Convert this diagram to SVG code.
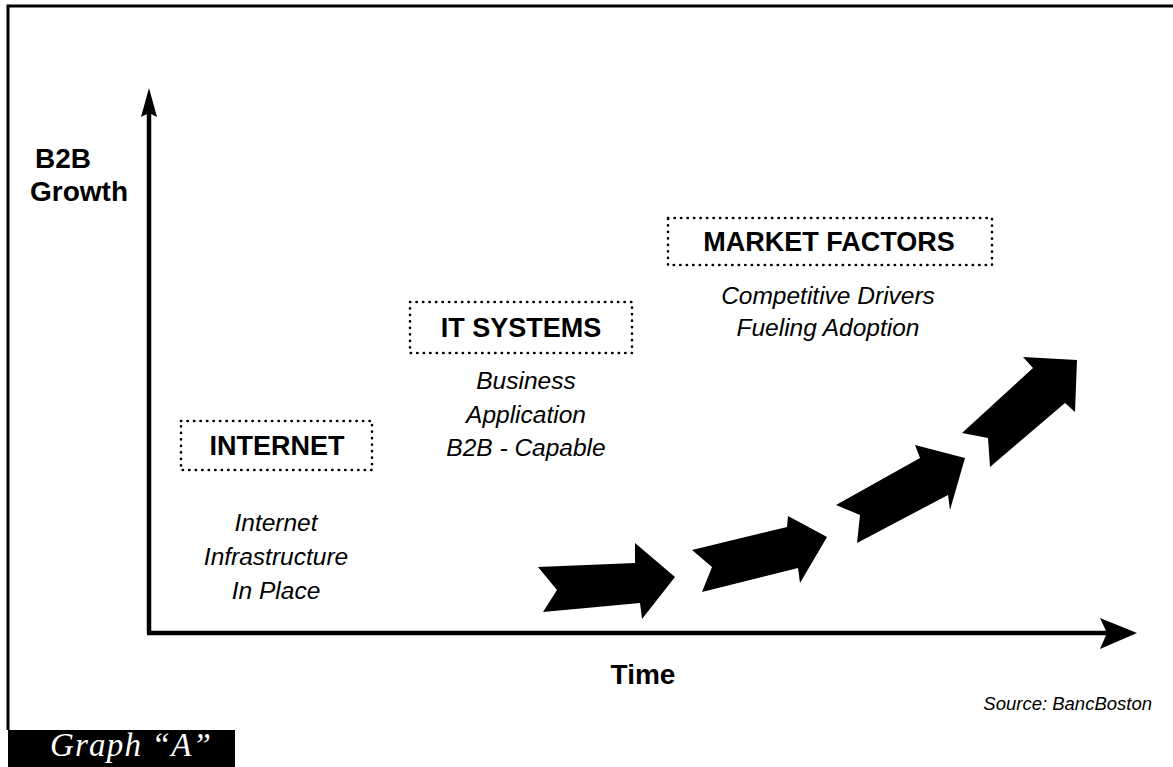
<svg xmlns="http://www.w3.org/2000/svg" width="1173" height="767" viewBox="0 0 1173 767">
<style>
.frame{fill:none;stroke:#000;stroke-width:3}
.axis{stroke:#000;stroke-width:4.5;fill:none}
.box{fill:none;stroke:#000;stroke-width:2.6;stroke-linecap:round;stroke-dasharray:0.3 6.2}
.head{font-family:"Liberation Sans",Arial,sans-serif;font-weight:bold;font-size:27px;fill:#000;text-anchor:middle}
.desc{font-family:"Liberation Sans",Arial,sans-serif;font-style:italic;font-size:24.5px;fill:#000;text-anchor:middle}
.lbl{font-family:"Liberation Sans",Arial,sans-serif;font-weight:bold;font-size:28px;fill:#000}
.src{font-family:"Liberation Sans",Arial,sans-serif;font-style:italic;font-size:18.5px;fill:#000;text-anchor:end}
.big{fill:#000}
</style>
<rect width="1173" height="767" fill="#fff"/>
<g id="frame">
<polyline class="frame" points="8,730 8,6 1173,6"/>
</g>
<g id="axes">
<line class="axis" x1="149" y1="110" x2="149" y2="633"/>
<line class="axis" x1="147" y1="633" x2="1110" y2="633"/>
<polygon class="big" points="149,88 157,117 149,113 141,117"/>
<polygon class="big" points="1137,633 1100,649 1107,633 1100,618"/>
</g>
<g id="axis-labels">
<text class="lbl" x="35" y="168">B2B</text>
<text class="lbl" x="30" y="201">Growth</text>
<text class="lbl" x="643" y="684" text-anchor="middle" font-size="24.5">Time</text>
</g>
<g id="internet">
<rect class="box" x="181" y="421" width="191" height="49"/>
<text class="head" x="277" y="455">INTERNET</text>
<text class="desc" x="276" y="531">Internet</text>
<text class="desc" x="276" y="565">Infrastructure</text>
<text class="desc" x="276" y="599">In Place</text>
</g>
<g id="it-systems">
<rect class="box" x="410" y="302" width="222" height="51"/>
<text class="head" x="521" y="337">IT SYSTEMS</text>
<text class="desc" x="526" y="389">Business</text>
<text class="desc" x="526" y="423">Application</text>
<text class="desc" x="526" y="456">B2B - Capable</text>
</g>
<g id="market-factors">
<rect class="box" x="668" y="218" width="324" height="47"/>
<text class="head" x="829" y="251">MARKET FACTORS</text>
<text class="desc" x="828" y="304">Competitive Drivers</text>
<text class="desc" x="828" y="336">Fueling Adoption</text>
</g>
<g id="connectors">
<polygon class="big" points="538,567 635,563 635,543 675,577 642,619 640,603 543,612 557,590"/>
<polygon class="big" points="692,550 787,527 788,516 827,537 800,583 798,568 702,592 712,567"/>
<polygon class="big" points="836,505 920,458 915,445 965,458 950,510 948,495 857,543 860,515"/>
<polygon class="big" points="962,433 1033,368 1023,357 1077,360 1075,412 1065,403 990,467 988,438"/>
</g>
<g id="source">
<text class="src" x="1152" y="710">Source: BancBoston</text>
</g>
<g id="graph-label">
<rect x="8" y="730" width="227" height="37" fill="#000"/>
<text x="50" y="756" font-family="'Liberation Serif','Times New Roman',serif" font-style="italic" font-size="33" letter-spacing="1.2" fill="#fff">Graph “A”</text>
</g>
</svg>
